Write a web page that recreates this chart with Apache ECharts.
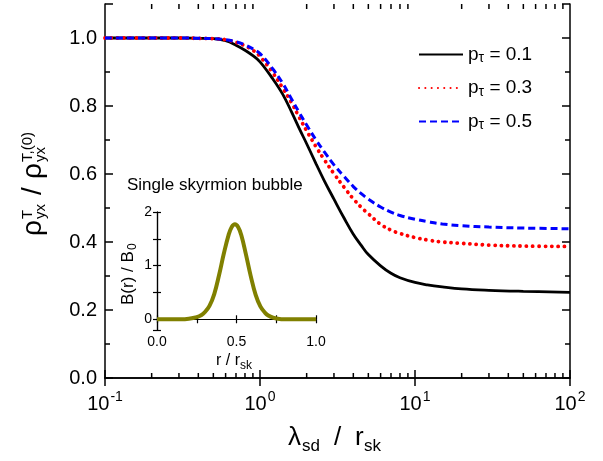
<!DOCTYPE html>
<html>
<head>
<meta charset="utf-8">
<script src="https://cdn.jsdelivr.net/npm/echarts@6/dist/echarts.min.js"></script>
<style>
html,body{margin:0;padding:0;background:#fff;}
#c{width:603px;height:461px;}
</style>
</head>
<body>
<div id="c"></div>
<script>
// ---- data ----
const lambdaVals = [0.1,0.2,0.3,0.4,0.5,0.6,0.7,0.8,0.9,1.0,1.2,1.4,1.6,1.8,2.0,2.3,2.6,3.0,3.5,4.0,4.5,5,6,7,8,10,12,15,20,30,50,100];
const rhoP01 = [1.0,1.0,1.0,0.999,0.998,0.992,0.979,0.964,0.948,0.930,0.882,0.835,0.782,0.732,0.689,0.630,0.580,0.526,0.469,0.423,0.390,0.363,0.330,0.308,0.295,0.281,0.274,0.268,0.262,0.258,0.255,0.252];
const rhoP03 = [1.0,1.0,1.0,0.999,0.998,0.995,0.987,0.977,0.964,0.946,0.900,0.853,0.809,0.765,0.727,0.680,0.642,0.601,0.560,0.527,0.502,0.483,0.452,0.435,0.425,0.413,0.406,0.400,0.396,0.391,0.388,0.387];
const rhoP05 = [1.0,1.0,1.0,0.999,0.998,0.995,0.989,0.980,0.968,0.954,0.911,0.867,0.820,0.779,0.744,0.700,0.665,0.627,0.592,0.563,0.542,0.526,0.503,0.488,0.478,0.467,0.460,0.453,0.448,0.444,0.441,0.439];
const seriesNames = ['p=0.1','p=0.3','p=0.5'];
const seriesLabels = ['0.1','0.3','0.5'];
const insetR = [0,0.05,0.1,0.15,0.2,0.25,0.28,0.3,0.33,0.36,0.39,0.42,0.45,0.47,0.49,0.51,0.53,0.56,0.59,0.62,0.65,0.68,0.7,0.73,0.76,0.8,0.85,0.9,0.95,1.0];
const insetB = [0,0,0,0,0.01,0.04,0.08,0.13,0.25,0.47,0.82,1.22,1.57,1.72,1.77,1.72,1.57,1.2,0.8,0.46,0.24,0.12,0.07,0.03,0.01,0,0,0,0,0];
const xTickExponents = ['-1','0','1','2'];
const xMinorTicks = [0.2,0.3,0.4,0.5,0.6,0.7,0.8,0.9,2,3,4,5,6,7,8,9,20,30,40,50,60,70,80,90];
const insetXLabels = {0:'0.0',0.5:'0.5',1:'1.0'};

const FONT = "'Liberation Sans', Arial, sans-serif";
const chart = echarts.init(document.getElementById('c'), null, {renderer:'canvas'});

// text placed by alphabetic baseline (converted to middle alignment)
const T = (text, x, baseline, size) => ({
  type:'text', x:x, y:baseline - 0.34 * size,
  style:{text:text, font:size + 'px ' + FONT, fill:'#000', verticalAlign:'middle', align:'left'}
});

const axLine = {lineStyle:{color:'#000', width:1.5}};
const mainX = (pos, showLabel) => ({
  type:'log', logBase:10, min:0.1, max:100, gridIndex:0, position:pos,
  axisLine:axLine,
  axisTick:{show:true, inside:true, length:8, lineStyle:{color:'#000', width:1.5}},
  axisLabel:{show:showLabel, margin:12, fontFamily:FONT, fontSize:20, color:'#000',
    formatter:(v, i) => '10{sup|' + xTickExponents[i] + '}',
    rich:{sup:{fontSize:14, fontFamily:FONT, color:'#000', verticalAlign:'top', padding:[0,0,14,1]}}},
  splitLine:{show:false}
});
const mainY = (pos, major, showLabel) => ({
  type:'value', min:0, max:1.1, interval: major ? 0.2 : 0.1, gridIndex:0, position:pos,
  axisLine: major ? axLine : {show:false},
  axisTick:{show:true, inside:true, length: major ? 8 : 5, lineStyle:{color:'#000', width:1.5}},
  axisLabel:{show:showLabel, margin:8, fontFamily:FONT, fontSize:20, color:'#000',
    formatter: v => v > 1.05 ? '' : v.toFixed(1)},
  splitLine:{show:false}
});
const insAx = {lineStyle:{color:'#000', width:1.2}};
const insetX = (pos, showLabel) => ({
  type:'value', min:0, max:1, interval:0.25, gridIndex:1, position:pos,
  axisLine:insAx,
  axisTick:{show:true, inside:true, length:4, lineStyle:{color:'#000', width:1.2}},
  axisLabel:{show:showLabel, margin:5, fontFamily:FONT, fontSize:14, color:'#000',
    formatter: v => insetXLabels[v] !== undefined ? insetXLabels[v] : ''},
  splitLine:{show:false}
});
const insetY = (pos, showLabel) => ({
  type:'value', min:-0.2, max:2, splitNumber:4, gridIndex:1, position:pos,
  axisLine:insAx,
  axisTick:{show:true, inside:true, length:4, lineStyle:{color:'#000', width:1.2}},
  axisLabel:{show:showLabel, margin:5, fontFamily:FONT, fontSize:14, color:'#000',
    formatter: v => (Math.abs(v - Math.round(v)) < 1e-6) ? String(Math.round(v)) : ''},
  splitLine:{show:false}
});

const pair = (xs, ys) => xs.map((x, i) => [x, ys[i]]);

const option = {
  animation:false,
  backgroundColor:'#fff',
  grid:[
    {left:105, top:4, width:465, height:374},
    {left:157, top:212, width:159, height:118}
  ],
  xAxis:[mainX('bottom', true), mainX('top', false), insetX('bottom', true), insetX('top', false)],
  yAxis:[mainY('left', true, true), mainY('right', true, false), mainY('left', false, false), mainY('right', false, false),
         insetY('left', true), insetY('right', false)],
  legend:{
    orient:'vertical', left:418, top:45, padding:0, itemWidth:44, itemHeight:20, itemGap:13,
    data:seriesNames,
    itemStyle:{opacity:0},
    textStyle:{fontFamily:FONT, fontSize:19, color:'#000',
      rich:{s:{fontFamily:FONT, fontSize:14, color:'#000', verticalAlign:'bottom', padding:[8,0,0,0]}}},
    formatter: name => 'p{s|τ} = ' + seriesLabels[seriesNames.indexOf(name)]
  },
  series:[
    {name:seriesNames[0], type:'line', xAxisIndex:0, yAxisIndex:0, data:pair(lambdaVals, rhoP01),
     showSymbol:false, symbol:'none', smooth:0.4, z:3,
     lineStyle:{color:'#000', width:2.8, type:'solid'}, itemStyle:{color:'#000'}},
    {name:seriesNames[1], type:'line', xAxisIndex:0, yAxisIndex:0, data:pair(lambdaVals, rhoP03),
     showSymbol:false, symbol:'none', smooth:0.4, z:4,
     lineStyle:{color:'#ff0000', width:3.8, type:[0.1, 6.2], cap:'round'}, itemStyle:{color:'#ff0000'}},
    {name:seriesNames[2], type:'line', xAxisIndex:0, yAxisIndex:0, data:pair(lambdaVals, rhoP05),
     showSymbol:false, symbol:'none', smooth:0.4, z:5,
     lineStyle:{color:'#0000ff', width:3, type:[7, 4]}, itemStyle:{color:'#0000ff'}},
    {type:'custom', xAxisIndex:0, yAxisIndex:0, silent:true, z:6,
     data:xMinorTicks.map(v => [v, 0.5]),
     encode:{x:0, y:1},
     renderItem:(params, api) => {
       const x = api.coord([api.value(0), 0.5])[0];
       const cs = params.coordSys;
       const b = cs.y + cs.height, t = cs.y;
       return {type:'group', children:[
         {type:'line', shape:{x1:x, y1:b, x2:x, y2:b-5}, style:{stroke:'#000', lineWidth:1.5}},
         {type:'line', shape:{x1:x, y1:t, x2:x, y2:t+5}, style:{stroke:'#000', lineWidth:1.5}}
       ]};
     }},
    {name:'inset', type:'line', xAxisIndex:2, yAxisIndex:4, data:pair(insetR, insetB),
     showSymbol:false, symbol:'none', smooth:0.4, z:3,
     lineStyle:{color:'#808000', width:4}}
  ],
  graphic:[
    // main y title (rotated, reads bottom to top; local y = screen x offset from baseline)
    {type:'group', x:43, y:236, rotation:Math.PI/2, children:[
      T('ρ', 0, 0, 28),
      T('T', 17, -10, 15),
      T('yx', 17, 3, 15),
      T('/', 41, 0, 28),
      T('ρ', 57, 0, 28),
      T('T,(0)', 74, -10, 15),
      T('yx', 74, 3, 15)
    ]},
    // main x title
    {type:'group', x:0, y:0, children:[
      T('λ', 288, 447, 26),
      T('sd', 302, 452, 17),
      T('/', 334, 447, 26),
      T('r', 355, 447, 26),
      T('sk', 364, 452, 17)
    ]},
    // inset title
    T('Single skyrmion bubble', 127, 191, 17),
    // inset y title
    {type:'group', x:134, y:305, rotation:Math.PI/2, children:[
      T('B(r) / B', 0, 0, 17),
      T('0', 55, 3, 12)
    ]},
    // inset x title
    {type:'group', x:0, y:0, children:[
      T('r / r', 216, 366, 16),
      T('sk', 240, 370, 12)
    ]}
  ]
};
chart.setOption(option);
</script>
</body>
</html>
